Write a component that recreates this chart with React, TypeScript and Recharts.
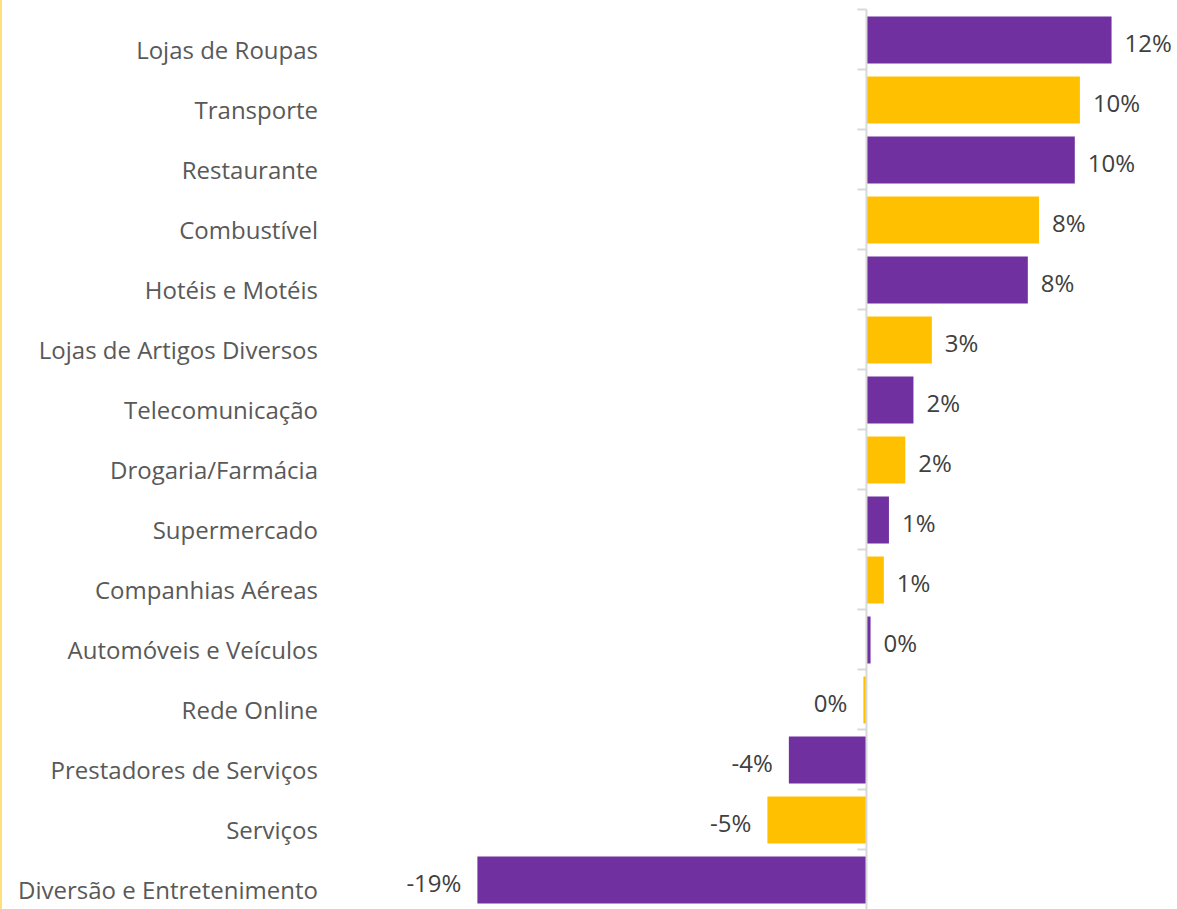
import React from 'react';
import { BarChart, Bar, XAxis, YAxis, Cell, LabelList, ReferenceLine } from 'recharts';

const categories = [
  'Lojas de Roupas',
  'Transporte',
  'Restaurante',
  'Combustível',
  'Hotéis e Motéis',
  'Lojas de Artigos Diversos',
  'Telecomunicação',
  'Drogaria/Farmácia',
  'Supermercado',
  'Companhias Aéreas',
  'Automóveis e Veículos',
  'Rede Online',
  'Prestadores de Serviços',
  'Serviços',
  'Diversão e Entretenimento',
];

const variation = [12.0, 10.45, 10.2, 8.45, 7.9, 3.2, 2.3, 1.9, 1.1, 0.85, 0.2, -0.15, -3.8, -4.85, -19.05];

const barColors = ['#7030A0', '#FFC000'];

const data = categories.map((name, i) => ({ name, value: variation[i] }));

// layout
const W = 1177;
const H = 920;
const DOMAIN: [number, number] = [-20, 14];
const Y_AXIS_W = 458;
const MARGIN = { top: 9.5, right: 24.6, left: 0, bottom: 10.5 };
const plotW = W - MARGIN.left - MARGIN.right - Y_AXIS_W;
const zeroX = MARGIN.left + Y_AXIS_W + ((0 - DOMAIN[0]) / (DOMAIN[1] - DOMAIN[0])) * plotW;
const bandH = (H - MARGIN.top - MARGIN.bottom) / categories.length;
const LABEL_RIGHT = 318;

const font = '"Open Sans", sans-serif';
const FS = 24;

const CategoryTick = (props: any) => {
  const { y, payload } = props;
  return (
    <g>
      <line x1={zeroX - 9} x2={zeroX} y1={y - bandH / 2} y2={y - bandH / 2} stroke="#D9D9D9" strokeWidth={2} />
      <text x={LABEL_RIGHT} y={y + 10} textAnchor="end" dominantBaseline="central" fill="#595959" fontSize={FS} fontFamily={font}>
        {payload.value}
      </text>
    </g>
  );
};

const ValueLabel = (props: any) => {
  const { x, y, width, height, value } = props;
  const left = Math.min(x, x + width);
  const right = Math.max(x, x + width);
  const neg = value < 0;
  const r = Math.round(value);
  const txt = (r === 0 ? 0 : r) + '%';
  return (
    <text
      x={neg ? left - 16 : right + 13}
      y={y + height / 2 + 2}
      textAnchor={neg ? 'end' : 'start'}
      dominantBaseline="central"
      fill="#404040"
      fontSize={FS}
      fontFamily={font}
    >
      {txt}
    </text>
  );
};

export default function App() {
  return (
    <div style={{ position: 'absolute', left: 0, top: 0, width: W, height: 909, overflow: 'hidden', background: '#fff' }}>
      <div style={{ position: 'absolute', left: 0, top: 0, width: 2, height: 909, background: '#FFE07A' }} />
      <BarChart width={W} height={H} data={data} layout="vertical" margin={MARGIN}>
        <XAxis type="number" domain={DOMAIN} hide />
        <YAxis
          type="category"
          dataKey="name"
          width={Y_AXIS_W}
          axisLine={false}
          tickLine={false}
          tick={<CategoryTick />}
          interval={0}
        />
        <ReferenceLine x={0} stroke="#D9D9D9" strokeWidth={2} />
        <Bar dataKey="value" barSize={47} isAnimationActive={false}>
          {data.map((d, i) => (
            <Cell key={d.name} fill={barColors[i % 2]} />
          ))}
          <LabelList dataKey="value" content={<ValueLabel />} />
        </Bar>
      </BarChart>
    </div>
  );
}
